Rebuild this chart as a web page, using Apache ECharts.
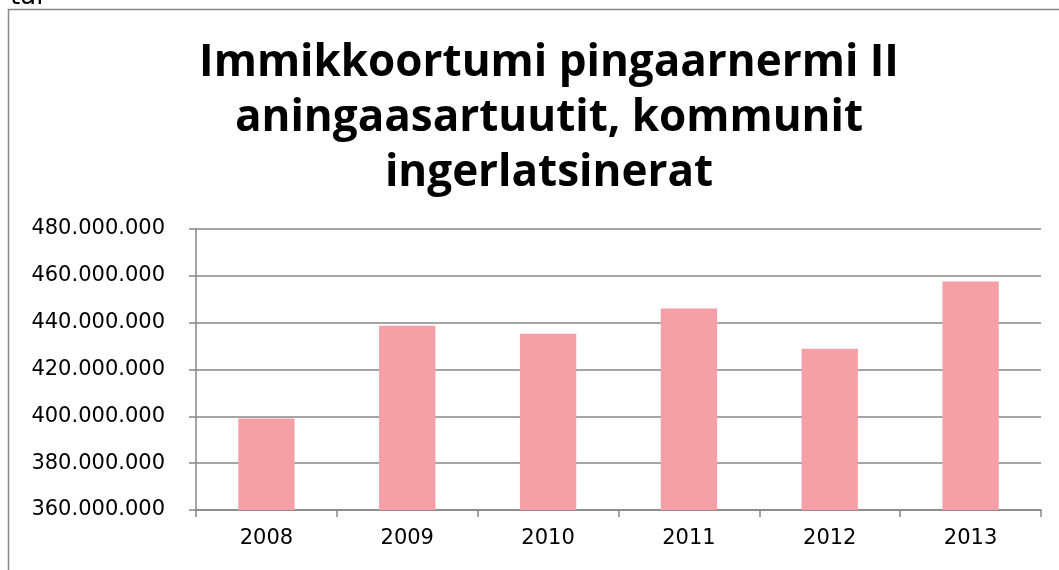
<!DOCTYPE html>
<html>
<head>
<meta charset="utf-8">
<script src="https://cdn.jsdelivr.net/npm/echarts@6/dist/echarts.min.js"></script>
<style>
  html, body { margin: 0; padding: 0; background: #fff; }
  #myChart { width: 1059px; height: 570px; }
</style>
</head>
<body>
<div id="myChart"></div>
<script>
// data
var years = ['2008', '2009', '2010', '2011', '2012', '2013'];
var amounts = [399100000, 438700000, 435300000, 446000000, 428900000, 457600000];
var titleLines = ['Immikkoortumi pingaarnermi II', 'aningaasartuutit, kommunit', 'ingerlatsinerat'];

// 480000000 -> 480.000.000
function dotted(v) {
  return String(Math.round(v)).replace(/\B(?=(\d{3})+(?!\d))/g, '.');
}

var gray = '#878787';
var myChart = echarts.init(document.getElementById('myChart'));
myChart.setOption({
  animation: false,
  title: {
    text: titleLines.join('\n'),
    left: 544,
    textAlign: 'center',
    top: 31,
    textStyle: {
      fontFamily: 'Open Sans',
      fontWeight: 'bold',
      fontSize: 44,
      lineHeight: 55,
      color: '#000'
    }
  },
  graphic: [
    {
      type: 'rect',
      shape: { x: 8.5, y: 9.5, width: 1070, height: 580 },
      style: { fill: 'none', stroke: gray, lineWidth: 1.5 }
    },
    {
      type: 'text',
      style: { x: 10, y: 10, text: 'tal', font: '26px "DejaVu Sans"', fill: '#000', verticalAlign: 'bottom' }
    }
  ],
  grid: { left: 196, right: 18, top: 229, bottom: 60 },
  xAxis: {
    type: 'category',
    data: years,
    axisLine: { lineStyle: { color: gray, width: 1.5 } },
    axisTick: { show: true, alignWithLabel: false, length: 7, lineStyle: { color: gray, width: 1.5 } },
    axisLabel: { color: '#000', fontFamily: 'DejaVu Sans', fontSize: 21, margin: 18 }
  },
  yAxis: {
    type: 'value',
    min: 360000000,
    max: 480000000,
    interval: 20000000,
    axisLine: { show: true, lineStyle: { color: gray, width: 1.5 } },
    axisTick: { show: true, length: 7, lineStyle: { color: gray, width: 1.5 } },
    splitLine: { lineStyle: { color: gray, width: 1.5 } },
    axisLabel: { color: '#000', fontFamily: 'DejaVu Sans', fontSize: 21, margin: 31, formatter: dotted }
  },
  series: [{
    type: 'bar',
    data: amounts,
    barWidth: '40%',
    itemStyle: { color: '#F5A0A7' }
  }]
});
</script>
</body>
</html>
